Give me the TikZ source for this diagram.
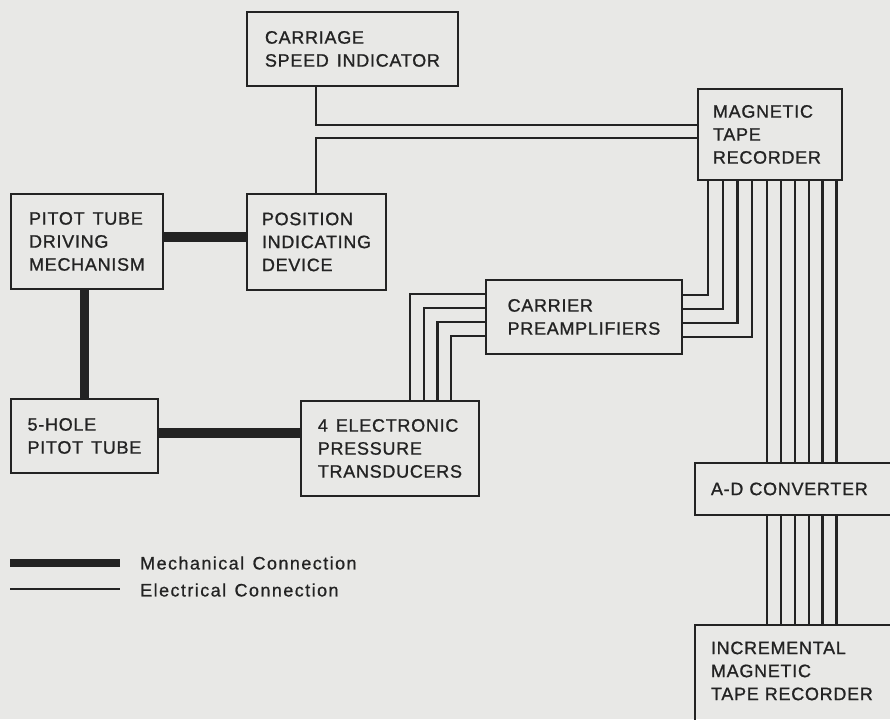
\documentclass[tikz,border=0pt]{standalone}
\usepackage{fontspec}
\setmainfont{Liberation Sans}[LetterSpace=4,WordSpace=1.4,FakeBold=1]
\newfontfamily\legendfont{Liberation Sans}[LetterSpace=8,WordSpace=1.3,FakeBold=0.8]
\usetikzlibrary{calc}
\definecolor{paper}{RGB}{232,232,230}
\definecolor{ink}{RGB}{35,35,35}

\begin{document}
\begin{tikzpicture}[x=1pt, y=-1pt,
    block/.style={draw=ink, line width=1.9pt, fill=paper, anchor=north west,
      align=left, inner xsep=15pt, text=ink, font=\fontsize{18}{23}\selectfont},
    frame/.style={draw=ink, line width=1.9pt},
    elec/.style={draw=ink, line width=2.4pt},
    mech/.style={draw=ink, line width=9.5pt},
    legend/.style={anchor=west, inner sep=0pt, text=ink,
      font=\legendfont\fontsize{18}{22}\selectfont}
  ]
  \path[fill=paper, use as bounding box] (0,0) rectangle (890,719);

  \node[block, minimum width=211pt, minimum height=74pt] (csi) at (246,11) {CARRIAGE\\SPEED INDICATOR};
  \node[block, text width=114pt, minimum height=91pt] (mtr) at (697,88) {MAGNETIC\\TAPE\\RECORDER};
  \node[block, minimum width=152pt, minimum height=95pt] (ptdm) at (10,193) {PITOT TUBE\\DRIVING\\MECHANISM};
  \node[block, minimum width=138pt, minimum height=96pt] (pid) at (246,193) {POSITION\\INDICATING\\DEVICE};
  \node[block, minimum width=196pt, minimum height=74pt] (cpa) at (485,279) {CARRIER\\PREAMPLIFIERS};
  \node[block, minimum width=147pt, minimum height=74pt] (hole) at (10,398) {5-HOLE\\PITOT TUBE};
  \node[block, minimum width=178pt, minimum height=95pt] (ept) at (300,400) {4 ELECTRONIC\\PRESSURE\\TRANSDUCERS};
  \node[block, draw=none, text width=175pt, minimum height=50pt] (adc) at (695,463) {A-D CONVERTER};
  \node[block, draw=none, text width=175pt, minimum height=90pt] (imtr) at (695,625) {INCREMENTAL\\MAGNETIC\\TAPE RECORDER};

  % boxes cut by the right and bottom edge
  \coordinate (edge) at (890,0);
  \draw[frame] (adc.north west -| edge) -- (adc.north west) -- (adc.south west) -- (adc.south west -| edge);
  \draw[frame] (imtr.north west -| edge) -- (imtr.north west) -- ([yshift=-6pt]imtr.south west);

  % electrical
  \draw[elec] ($(csi.south west)+(70,0)$) |- ($(mtr.north west)+(0,37)$);
  \draw[elec] ($(pid.north west)+(70,0)$) |- ($(mtr.north west)+(0,50)$);
  \foreach \i in {0,...,3}
    \draw[elec] ($(ept.north west)+(110+13.7*\i,0)$) |- ($(cpa.north west)+(0,15+13.9*\i)$);
  \foreach \i in {0,...,3}
    \draw[elec] ($(cpa.north east)+(0,16+14*\i)$) -| ($(mtr.south west)+(11+14.7*\i,0)$);
  \foreach \i in {0,...,5} {
    \coordinate (t\i) at ($(mtr.south west)+(70+13.9*\i,0)$);
    \draw[elec] (t\i) -- (t\i |- adc.north);
    \draw[elec] (t\i |- adc.south) -- (t\i |- imtr.north);
  }

  % mechanical
  \draw[mech] ($(ptdm.north east)+(0,44)$) -- ($(pid.north west)+(0,44)$);
  \draw[mech] (hole.north) -- (hole.north |- ptdm.south);
  \draw[mech] ($(hole.north east)+(0,35)$) -- ($(ept.north west)+(0,33)$);

  % legend
  \coordinate (m1) at (10,563);
  \coordinate (m2) at (120,563);
  \draw[mech, line width=8pt] (m1) -- (m2);
  \node[legend] (mlab) at (140,563) {Mechanical Connection};
  \coordinate (e1) at (10,589);
  \coordinate (e2) at (120,589);
  \draw[elec] (e1) -- (e2);
  \node[legend] (elab) at (140,590) {Electrical Connection};
\end{tikzpicture}
\end{document}
